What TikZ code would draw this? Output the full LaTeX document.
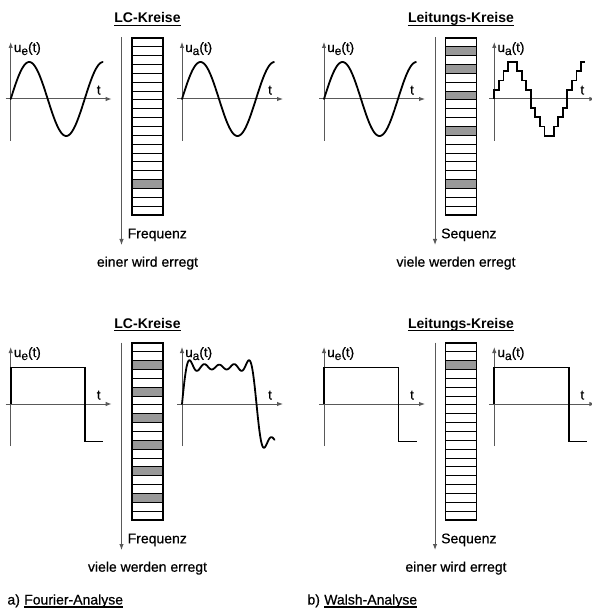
\documentclass[tikz,border=0pt]{standalone}
\usepackage{fontspec}
\setmainfont{Liberation Sans}
\newfontfamily\medfont[FakeBold=0.6]{Liberation Sans}
\usetikzlibrary{arrows.meta}
\definecolor{axgray}{gray}{0.35}
\definecolor{barfill}{gray}{0.6}
\begin{document}
\begin{tikzpicture}[x=1pt,y=-1pt,
  axis/.style={draw=axgray, line width=1pt},
  axarrow/.style={axis, -{Latex[length=6pt,width=4.5pt]}},
  curve/.style={line width=1.8pt, line join=round, line cap=round},
  stair/.style={line width=1.8pt, line join=miter},
  rung/.style={line width=1pt},
  frame/.style={line width=1.5pt},
  lbl/.style={inner sep=0pt, font=\medfont\fontsize{13.5}{15}\selectfont},
  txt/.style={inner sep=0pt, font=\medfont\fontsize{14}{16}\selectfont},
  ttl/.style={inner sep=0pt, font=\fontsize{14}{16}\selectfont\bfseries},
  uline/.style={line width=1.2pt},
  pics/axes/.style={code={
    \draw[axarrow] (-5,0) -- (101,0);
    \draw[axarrow] (0,42) -- (0,-57);
    \node[lbl, anchor=base west] (-u) at (3,-47) {u\raisebox{-3pt}{\fontsize{12}{12}\selectfont #1}(t)};
    \node[lbl, anchor=base] (-t) at (88,-4.5) {t};
  }},
  pics/ladder/.style={code={
    \foreach \r in {#1} \fill[barfill] (0,{\r*8.85}) rectangle (31,{(\r+1)*8.85});
    \foreach \r in {1,...,19} \draw[rung] (0,{\r*8.85}) -- (31,{\r*8.85});
    \draw[frame] (0,0) rectangle (31,177);
  }}
]
\useasboundingbox (0,0) rectangle (591,609);

% ---------- titles ----------
\foreach \nm/\cx/\by/\tx in {t1/147.5/22.7/LC-Kreise, t2/461/22.7/Leitungs-Kreise, t3/147.5/328/LC-Kreise, t4/461/328/Leitungs-Kreise}{
  \node[ttl, anchor=base] (\nm) at (\cx,\by) {\tx};
  \draw[uline] ([yshift=-2.6pt]\nm.base west) -- ([yshift=-2.6pt]\nm.base east);
}

% ---------- axes ----------
\pic (tlL) at (10.7,99) {axes=e};
\pic (tlR) at (182,99) {axes=a};
\pic (trL) at (324,99) {axes=e};
\pic (trR) at (494.3,99) {axes=a};
\pic (blL) at (10.7,404) {axes=e};
\pic (blR) at (182,404) {axes=a};
\pic (brL) at (324,404) {axes=e};
\pic (brR) at (494.3,404) {axes=a};

% ---------- ladders ----------
\pic at (132,38) {ladder={16}};
\pic at (445.5,38) {ladder={1,3,6,10,16}};
\pic at (132,343) {ladder={2,5,8,11,14,17}};
\pic at (445.5,343) {ladder={2}};

% ---------- frequency / sequence arrows ----------
\coordinate (f1a) at (121.5,37.5); \coordinate (f1b) at (121.5,245);
\coordinate (f2a) at (435,37.5);   \coordinate (f2b) at (435,245);
\coordinate (f3a) at (121.5,342.5);\coordinate (f3b) at (121.5,550);
\coordinate (f4a) at (435,342.5);  \coordinate (f4b) at (435,550);
\draw[axarrow] (f1a) -- (f1b);
\draw[axarrow] (f2a) -- (f2b);
\draw[axarrow] (f3a) -- (f3b);
\draw[axarrow] (f4a) -- (f4b);
\node[txt, anchor=base west] (fq1) at (127.5,238.3) {Frequenz};
\node[txt, anchor=base west] (sq1) at (441,238.3) {Sequenz};
\node[txt, anchor=base west] (fq2) at (127.5,543.3) {Frequenz};
\node[txt, anchor=base west] (sq2) at (441,543.3) {Sequenz};

\node[txt, anchor=base] (e1) at (147.5,266.7) {einer wird erregt};
\node[txt, anchor=base] (e2) at (456,266.7) {viele werden erregt};
\node[txt, anchor=base] (e3) at (147.5,571.7) {viele werden erregt};
\node[txt, anchor=base] (e4) at (456,571.7) {einer wird erregt};

% ---------- captions ----------
\node[txt, anchor=base west] (ca) at (7.3,604.5) {a)};
\node[txt, anchor=base west] (cf) at ([xshift=3.9pt]ca.base east) {Fourier-Analyse};
\draw[uline] ([yshift=-2.4pt]cf.base west) -- ([yshift=-2.4pt]cf.base east);
\node[txt, anchor=base west] (cb) at (307.3,604.5) {b)};
\node[txt, anchor=base west] (cw) at ([xshift=3.9pt]cb.base east) {Walsh-Analyse};
\draw[uline] ([yshift=-2.4pt]cw.base west) -- ([yshift=-2.4pt]cw.base east);

% ---------- sine waves ----------
\foreach \ox in {10.7,182,324}{
  \draw[curve] plot[domain=0:92, samples=140] ({\ox+\x}, {99-37*sin(4.86486*\x)});
}

% ---------- staircase ----------
\begin{scope}[shift={(494.3,99)}]
\draw[stair] (0,0) -- (0,-9.2) -- (4.56,-9.2) -- (4.56,-18.4) -- (9.13,-18.4) -- (9.13,-27.6) -- (13.69,-27.6) -- (13.69,-36.8) -- (22.81,-36.8) -- (22.81,-27.6) -- (27.38,-27.6) -- (27.38,-18.4) -- (31.94,-18.4) -- (31.94,-9.2) -- (36.5,-9.2) -- (36.5,9.2) -- (41.06,9.2) -- (41.06,18.4) -- (45.63,18.4) -- (45.63,27.6) -- (50.19,27.6) -- (50.19,36.8) -- (59.31,36.8) -- (59.31,27.6) -- (63.88,27.6) -- (63.88,18.4) -- (68.44,18.4) -- (68.44,9.2) -- (73,9.2) -- (73,-9.2) -- (77.56,-9.2) -- (77.56,-18.4) -- (82.13,-18.4) -- (82.13,-27.6) -- (86.69,-27.6) -- (86.69,-36.8) -- (90.8,-36.8);
\end{scope}

% ---------- square waves ----------
\foreach \ox in {10.7,324,494.3}{
  \draw[stair] (\ox,404) -- (\ox,367.5) -- ({\ox+74.5},367.5) -- ({\ox+74.5},441.5) -- ({\ox+92.5},441.5);
}

% ---------- LC response (partial Fourier sum) ----------
\draw[curve] plot[domain=0:92.5, samples=300]
  ({182+\x}, {404-47.11*(sin(2.41611*\x)+sin(3*2.41611*\x)/3+sin(5*2.41611*\x)/5+sin(7*2.41611*\x)/7+sin(9*2.41611*\x)/9)});

\end{tikzpicture}
\end{document}
